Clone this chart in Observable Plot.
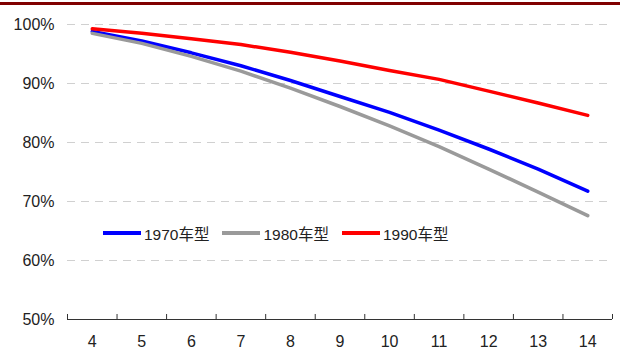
<!DOCTYPE html>
<html>
<head>
<meta charset="utf-8">
<script src="https://cdn.jsdelivr.net/npm/d3@7"></script>
<script src="https://cdn.jsdelivr.net/npm/@observablehq/plot@0.6"></script>
<style>
  body { margin: 0; background: #fff; font-family: "Liberation Sans", Arial, "Noto Sans CJK SC", sans-serif; }
  #wrap { position: relative; width: 620px; height: 356px; }
  #topbar { position: absolute; left: 0; top: 2px; width: 620px; height: 3px; background: #800000; }
  #legend { position: absolute; left: 103px; top: 222px; display: flex; align-items: center; font-size: 15.5px; color: #222; }
  .item { display: flex; align-items: center; margin-right: 13px; }
  .swatch { width: 38px; height: 4px; margin-right: 3px; }
</style>
</head>
<body>
<div id="wrap"><div id="topbar"></div><div id="legend"></div></div>
<script>
const years = [4, 5, 6, 7, 8, 9, 10, 11, 12, 13, 14];
const series = ["1970车型", "1980车型", "1990车型"];
const colors = ["#0000ff", "#9a9a9a", "#ff0000"];
const v1970 = [98.8, 97.2, 95.2, 93.0, 90.5, 87.8, 85.1, 82.1, 78.9, 75.5, 71.75];
const v1980 = [98.5, 96.8, 94.6, 92.1, 89.2, 86.1, 82.8, 79.3, 75.5, 71.6, 67.6];
const v1990 = [99.27, 98.5, 97.6, 96.6, 95.3, 93.8, 92.2, 90.7, 88.7, 86.7, 84.6];
const yTicks = [50, 60, 70, 80, 90, 100];

const values = [v1970, v1980, v1990];
const data = [];
series.forEach((s, si) => years.forEach((yr, i) => data.push({series: s, x: yr, y: values[si][i]})));
const bounds = years.map(y => y - 0.5).concat([years[years.length - 1] + 0.5]);

const chart = Plot.plot({
  width: 620,
  height: 356,
  marginTop: 24,
  marginBottom: 37,
  marginLeft: 67,
  marginRight: 8,
  style: { fontFamily: '"Liberation Sans", Arial, "Noto Sans CJK SC", sans-serif', fontSize: "16px", color: "#222", background: "transparent" },
  x: { domain: [bounds[0], bounds[bounds.length - 1]], ticks: years, tickSize: 0, tickPadding: 16, tickFormat: d => String(d), label: null },
  y: { domain: [50, 100], ticks: yTicks, tickSize: 0, tickPadding: 13, tickFormat: d => d + "%", label: null },
  color: { domain: series, range: colors },
  marks: [
    Plot.ruleY(yTicks.filter(d => d > 50), { stroke: "#d0d0d0", strokeWidth: 1, strokeDasharray: "8,6" }),
    Plot.ruleY([50], { stroke: "#333", strokeWidth: 1 }),
    Plot.ruleX(bounds, { y1: 50, y2: 50.85, stroke: "#333", strokeWidth: 1 }),
    Plot.line(data, { x: "x", y: "y", z: "series", stroke: "series", strokeWidth: 3.5 })
  ]
});
document.getElementById("wrap").insertBefore(chart, document.getElementById("topbar"));

const legend = document.getElementById("legend");
series.forEach((s, i) => {
  const it = document.createElement("div");
  it.className = "item";
  const sw = document.createElement("div");
  sw.className = "swatch";
  sw.style.background = colors[i];
  const t = document.createElement("span");
  t.textContent = s;
  it.appendChild(sw); it.appendChild(t);
  legend.appendChild(it);
});
</script>
</body>
</html>
